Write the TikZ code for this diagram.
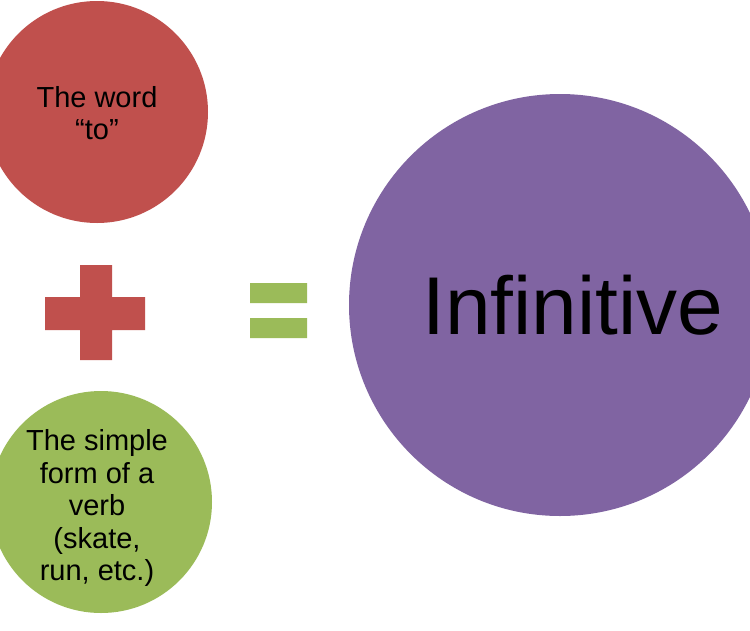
\documentclass[tikz,border=0pt]{standalone}
\usepackage{fontspec}
\setmainfont{Liberation Sans}
\definecolor{cred}{HTML}{C0504D}
\definecolor{cgreen}{HTML}{9BBB59}
\definecolor{cpurple}{HTML}{8064A2}
\begin{document}
\begin{tikzpicture}[x=1pt,y=-1pt,
  circ/.style={circle,inner sep=0pt,align=center,text=black}]
\useasboundingbox (0,0) rectangle (750,630);
\clip (0,0) rectangle (750,630);
\fill[white] (0,0) rectangle (750,630);
\node[circ,fill=cred,minimum size=222pt] (word) at (97,112) {};
\node[align=center,font=\fontsize{29}{32}\selectfont] (wordtxt) at (97,113) {The word\\``to''};
\node[circ,fill=cgreen,minimum size=222pt] (verb) at (101,502) {};
\node[align=center,font=\fontsize{29}{32.5}\selectfont] (verbtxt) at (97,508) {The simple\\form of a\\verb\\(skate,\\run, etc.)};
\node[circ,fill=cpurple,minimum size=422pt] (inf) at (560,305) {};
\node[font=\fontsize{82}{90}\selectfont] (inftxt) at (573,305) {Infinitive};
\fill[cred] (80,265) rectangle (112,360) (45,297) rectangle (145,330);
\fill[cgreen] (250,283) rectangle (307,303) (250,318) rectangle (307,338);
\end{tikzpicture}
\end{document}
